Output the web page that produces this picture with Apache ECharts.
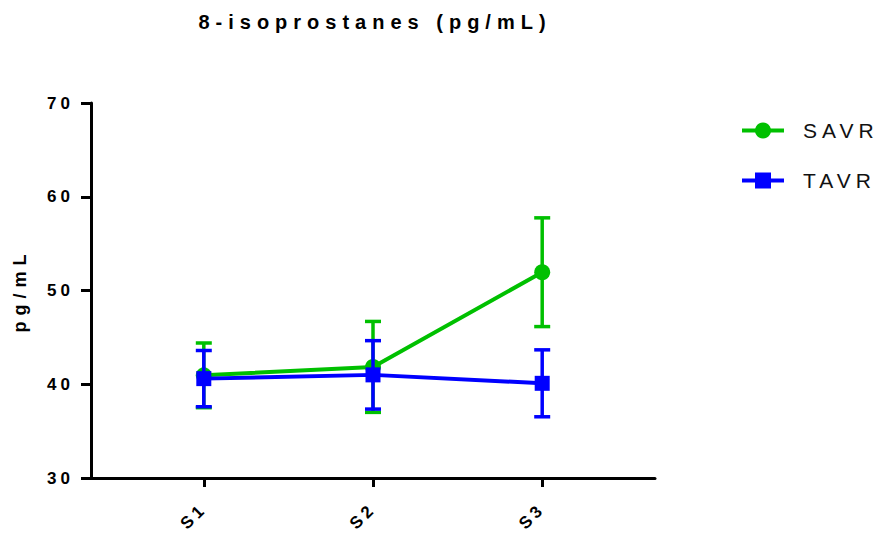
<!DOCTYPE html>
<html lang="en">
  <head>
    <meta charset="UTF-8" />
    <title>8-isoprostanes</title>
    <script src="https://cdn.jsdelivr.net/npm/echarts@6/dist/echarts.min.js"></script>
  </head>
  <body style="margin:0">
    <style>
      #chart {
        width: 883px;
        height: 542px;
      }
      /* spaced-out lettering like the original figure (keyed on font size) */
      #chart svg text { letter-spacing: 4px; }
      #chart svg text[style*="20px"] { letter-spacing: 6px; }
      #chart svg text[style*="21px"] { letter-spacing: 5px; }
      #chart svg text[style*="18px"] { letter-spacing: 6px; }
    </style>
    <div id="chart"></div>

    <script>
      const categories = ['S1', 'S2', 'S3'];
      const savrMean = [40.95, 41.85, 51.95];
      const savrErr = [3.45, 4.85, 5.8];
      const tavrMean = [40.6, 41.0, 40.1];
      const tavrErr = [3.0, 3.65, 3.57];
      const yTicks = [30, 40, 50, 60, 70];

      const GREEN = '#00c000';
      const BLUE = '#0000ff';
      const FONT = 'Liberation Sans, Arial, sans-serif';

      const chart = echarts.init(document.getElementById('chart'), null, { renderer: 'svg' });

      const positions = categories.map((c, i) => i + 1);

      function errorSeries(name, mean, err, color, z) {
        return {
          type: 'custom',
          name: name + ' SD',
          z: z,
          itemStyle: { color: color },
          data: mean.map((m, i) => [positions[i], m - err[i], m + err[i]]),
          renderItem: (params, api) => {
            const lo = api.coord([api.value(0), api.value(1)]);
            const hi = api.coord([api.value(0), api.value(2)]);
            const half = 8;
            const style = { stroke: color, lineWidth: 3.5 };
            return {
              type: 'group',
              children: [
                { type: 'line', shape: { x1: lo[0], y1: lo[1], x2: hi[0], y2: hi[1] }, style },
                { type: 'line', shape: { x1: lo[0] - half, y1: lo[1], x2: lo[0] + half, y2: lo[1] }, style },
                { type: 'line', shape: { x1: hi[0] - half, y1: hi[1], x2: hi[0] + half, y2: hi[1] }, style },
              ],
            };
          },
        };
      }

      chart.setOption({
        animation: false,
        title: {
          text: '8-isoprostanes (pg/mL)',
          left: 370,
          textAlign: 'center',
          top: 7,
          textStyle: { fontFamily: FONT, fontSize: 20, fontWeight: 'bold', color: '#000' },
        },
        legend: {
          orient: 'vertical',
          left: 740,
          top: 120,
          padding: 0,
          itemWidth: 42,
          itemHeight: 20,
          itemGap: 29,
          data: ['SAVR', 'TAVR'],
          lineStyle: { width: 4 },
          textStyle: { fontFamily: FONT, fontSize: 21, color: '#111', padding: [0, 0, 0, 14] },
        },
        grid: { left: 91, right: 228, top: 103, bottom: 64 },
        xAxis: {
          type: 'value',
          min: 1 / 3,
          max: 11 / 3,
          splitLine: { show: false },
          axisLine: { lineStyle: { color: '#000', width: 3 } },
          axisTick: { show: true, customValues: positions, length: 9, lineStyle: { color: '#000', width: 3 } },
          axisLabel: {
            customValues: positions,
            formatter: (v) => categories[Math.round(v) - 1],
            rotate: 45,
            margin: 28,
            fontFamily: FONT,
            fontSize: 17,
            fontWeight: 'bold',
            color: '#000',
          },
        },
        yAxis: {
          type: 'value',
          min: yTicks[0],
          max: yTicks[yTicks.length - 1],
          interval: 10,
          name: 'pg/mL',
          nameLocation: 'middle',
          nameGap: 62,
          nameTextStyle: { fontFamily: FONT, fontSize: 18, fontWeight: 'bold', color: '#000' },
          splitLine: { show: false },
          axisLine: { show: true, lineStyle: { color: '#000', width: 3 } },
          axisTick: { show: true, length: 10, lineStyle: { color: '#000', width: 3 } },
          axisLabel: {
            margin: 17,
            fontFamily: FONT,
            fontSize: 17,
            fontWeight: 'bold',
            color: '#000',
          },
        },
        series: [
          errorSeries('SAVR', savrMean, savrErr, GREEN, 2),
          {
            name: 'SAVR',
            type: 'line',
            z: 3,
            data: savrMean.map((m, i) => [positions[i], m]),
            symbol: 'circle',
            symbolSize: 16,
            itemStyle: { color: GREEN },
            lineStyle: { color: GREEN, width: 4 },
          },
          errorSeries('TAVR', tavrMean, tavrErr, BLUE, 4),
          {
            name: 'TAVR',
            type: 'line',
            z: 5,
            data: tavrMean.map((m, i) => [positions[i], m]),
            symbol: 'rect',
            symbolSize: 15,
            itemStyle: { color: BLUE },
            lineStyle: { color: BLUE, width: 4 },
          },
        ],
      });
    </script>
  </body>
</html>
